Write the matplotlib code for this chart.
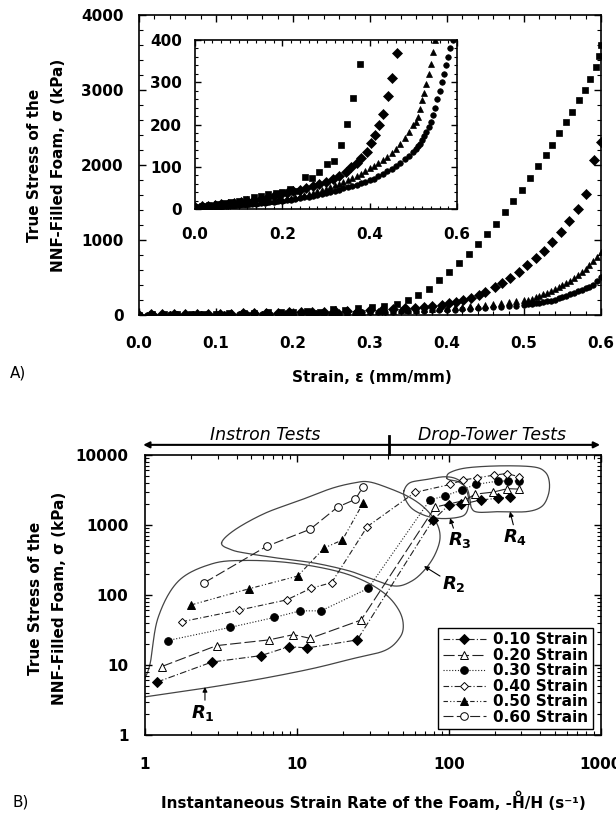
import numpy as np
import matplotlib
matplotlib.use("Agg")
import matplotlib.pyplot as plt
from matplotlib.ticker import MultipleLocator, LogLocator, NullFormatter, FixedLocator, FixedFormatter
from matplotlib.lines import Line2D

plt.rcParams['font.family'] = ['DejaVu Sans']
plt.rcParams['font.weight'] = 'bold'
plt.rcParams['mathtext.fontset'] = 'custom'
plt.rcParams['mathtext.rm'] = 'DejaVu Sans:bold'
plt.rcParams['mathtext.bf'] = 'DejaVu Sans:bold'
plt.rcParams['mathtext.it'] = 'DejaVu Sans:italic:bold'

# ---------------- Panel A data (strain, true stress kPa) ----------------
sq_strain = [0.000, 0.017, 0.033, 0.050, 0.067, 0.083, 0.100, 0.117, 0.136, 0.150, 0.168, 0.185,
             0.200, 0.218, 0.235, 0.252, 0.267, 0.285, 0.302, 0.318, 0.335, 0.349, 0.362, 0.377,
             0.390, 0.402, 0.415, 0.428, 0.440, 0.452, 0.464, 0.475, 0.486, 0.497, 0.508, 0.518,
             0.528, 0.537, 0.546, 0.555, 0.563, 0.571, 0.579, 0.586, 0.593, 0.597, 0.600]
sq_stress = [5, 8, 10, 12, 14, 17, 20, 24, 29, 31, 35, 39,
             41, 47, 43, 76, 73, 88, 106, 114, 151, 201, 262, 343,
             470, 580, 700, 820, 950, 1080, 1220, 1370, 1520, 1670, 1830, 1980,
             2130, 2270, 2420, 2570, 2710, 2860, 3000, 3150, 3300, 3450, 3600]

di_strain = [0.000, 0.015, 0.030, 0.045, 0.060, 0.075, 0.090, 0.105, 0.120, 0.135, 0.150, 0.165,
             0.180, 0.195, 0.210, 0.225, 0.240, 0.255, 0.270, 0.285, 0.300, 0.315, 0.330, 0.346,
             0.358, 0.370, 0.381, 0.393, 0.402, 0.412, 0.421, 0.431, 0.441, 0.450, 0.462, 0.472,
             0.482, 0.493, 0.504, 0.515, 0.526, 0.537, 0.548, 0.559, 0.570, 0.581, 0.591, 0.600]
di_stress = [5, 7, 8, 10, 12, 13, 15, 17, 19, 22, 24, 27,
             30, 34, 38, 42, 46, 50, 55, 60, 65, 71, 78, 88,
             100, 108, 120, 136, 157, 175, 199, 226, 268, 309, 368, 430,
             500, 580, 670, 760, 860, 980, 1110, 1260, 1420, 1620, 2070, 2300]

tr_strain = [0.00, 0.01, 0.02, 0.03, 0.04, 0.05, 0.06, 0.07, 0.08, 0.09, 0.10, 0.11, 0.12, 0.13,
             0.14, 0.15, 0.16, 0.17, 0.18, 0.19, 0.20, 0.21, 0.22, 0.23, 0.24, 0.25, 0.26, 0.27,
             0.28, 0.29, 0.30, 0.31, 0.32, 0.33, 0.34, 0.35, 0.36, 0.37, 0.38, 0.39, 0.40, 0.41,
             0.42, 0.43, 0.44, 0.45, 0.46, 0.47, 0.48, 0.49, 0.50, 0.505, 0.51, 0.515, 0.52, 0.525,
             0.53, 0.535, 0.54, 0.545, 0.55, 0.555, 0.56, 0.565, 0.57, 0.575, 0.58, 0.585, 0.59,
             0.595, 0.60]
tr_stress = [5, 5, 6, 6, 7, 8, 8, 9, 10, 10, 11, 12, 13, 14,
             15, 16, 17, 18, 19, 21, 22, 24, 26, 28, 30, 33, 36, 39,
             42, 45, 48, 52, 56, 60, 64, 68, 73, 78, 84, 90, 96, 102,
             108, 115, 122, 132, 142, 155, 168, 182, 198, 205, 217, 236, 258, 275,
             297, 320, 342, 372, 400, 430, 460, 500, 540, 580, 620, 670, 720,
             780, 840]

ci_strain = [0.00, 0.01, 0.02, 0.03, 0.04, 0.05, 0.06, 0.07, 0.08, 0.09, 0.10, 0.11, 0.12, 0.13,
             0.14, 0.15, 0.16, 0.17, 0.18, 0.19, 0.20, 0.21, 0.22, 0.23, 0.24, 0.25, 0.26, 0.27,
             0.28, 0.29, 0.30, 0.31, 0.32, 0.33, 0.34, 0.35, 0.36, 0.37, 0.38, 0.39, 0.40, 0.41,
             0.42, 0.43, 0.44, 0.45, 0.46, 0.47, 0.48, 0.49, 0.50, 0.505, 0.51, 0.515, 0.52, 0.525,
             0.53, 0.535, 0.54, 0.545, 0.55, 0.555, 0.56, 0.565, 0.57, 0.575, 0.58, 0.585, 0.59,
             0.595, 0.60]
ci_stress = [5, 5, 6, 6, 7, 7, 8, 8, 9, 10, 10, 11, 12, 12,
             13, 14, 15, 16, 17, 18, 19, 21, 22, 24, 26, 28, 29, 31,
             33, 35, 37, 40, 43, 46, 49, 52, 55, 58, 61, 64, 68, 72,
             77, 83, 89, 95, 102, 110, 118, 126, 136, 142, 148, 155, 163, 172,
             182, 193, 205, 222, 240, 260, 280, 300, 320, 340, 360, 380, 400,
             450, 510]

# ---------------- Panel B data (strain rate 1/s, true stress kPa) ----------------
s10_rate = [1.2, 2.75, 5.8, 8.86, 11.7, 24.9, 78, 100, 120, 162, 209, 252]
s10_stress = [5.7, 11, 13.6, 18.3, 17.5, 22.8, 1160, 1935, 1960, 2280, 2400, 2540]
s20_rate = [1.29, 2.96, 6.54, 9.46, 12.2, 26.4, 81, 128, 148, 196, 242, 290]
s20_stress = [9.5, 18.9, 22.8, 27.1, 24.0, 43.8, 1800, 2250, 2750, 2950, 3300, 3250]
s30_rate = [1.41, 3.63, 7.09, 10.5, 14.4, 29.4, 75, 94, 121, 150, 211, 245, 289]
s30_stress = [22.3, 34.4, 47.7, 59.3, 59.3, 124, 2280, 2600, 3160, 3790, 4240, 4240, 4240]
s40_rate = [1.74, 4.15, 8.55, 12.3, 16.9, 29.0, 59.8, 102, 123, 154, 198, 240, 289]
s40_stress = [41.4, 60.7, 85, 124, 150, 947, 2920, 3790, 4380, 4720, 5150, 5430, 4880]
s50_rate = [2.01, 4.86, 10.1, 15.1, 19.9, 27.3]
s50_stress = [72, 123, 186, 469, 610, 2080]
s60_rate = [2.46, 6.31, 12.2, 18.5, 24.2, 27.2]
s60_stress = [150, 495, 867, 1800, 2320, 3510]
legend_labels = ['0.10 Strain', '0.20 Strain', '0.30 Strain', '0.40 Strain', '0.50 Strain', '0.60 Strain']

# region outlines (data coordinates)
R1_x = [0.9, 1.0, 1.66, 2.75, 5.86, 12.5, 22.9, 37.9, 47.6, 50.0, 46.4, 37.9, 26.6, 16.9, 8.77, 4.55, 2.75, 1.66, 1.22, 1.08, 0.98]
R1_y = [3.4, 3.5, 4.11, 4.84, 6.37, 8.83, 12.2, 16.1, 24.8, 38.4, 62.7, 104, 165, 228, 290, 311, 278, 158, 47.6, 10.4, 6.0]
R2_x = [3.19, 3.91, 6.16, 10.2, 16.9, 24.1, 29.4, 37.9, 54.0, 69.5, 83.0, 87.3, 80.9, 69.5, 56.9, 44.2, 31.0, 21.8, 13.1, 7.93, 4.78, 3.72]
R2_y = [552, 855, 1470, 2200, 3330, 4010, 4140, 3520, 2540, 1730, 1060, 650, 378, 231, 158, 134, 170, 222, 285, 330, 390, 440]
R3_x = [50.6, 55.4, 69.5, 94.2, 115, 129, 135, 129, 113, 87.3, 69.5, 57.1, 51.4]
R3_y = [3085, 4010, 4420, 4880, 4420, 3300, 2150, 1456, 1277, 1237, 1364, 1714, 2377]
R4_x = [96.6, 101.6, 131, 217, 357, 428, 457, 450, 407, 324, 217, 156, 141, 137, 131, 115, 101.6]
R4_y = [4720, 5610, 6540, 6980, 6760, 5740, 4140, 2680, 1830, 1550, 1550, 1520, 1730, 2400, 3330, 4140, 4380]


def catmull_rom(xs, ys, closed, n=24):
    P = np.column_stack([np.log10(xs), np.log10(ys)])
    if closed:
        P = np.vstack([P[-1], P, P[0], P[1]])
    else:
        P = np.vstack([P[0], P, P[-1]])
    out = []
    t = np.linspace(0, 1, n, endpoint=False)[:, None]
    for i in range(1, len(P) - 2):
        p0, p1, p2, p3 = P[i - 1], P[i], P[i + 1], P[i + 2]
        seg = 0.5 * (2 * p1 + (-p0 + p2) * t + (2 * p0 - 5 * p1 + 4 * p2 - p3) * t ** 2
                     + (-p0 + 3 * p1 - 3 * p2 + p3) * t ** 3)
        out.append(seg)
    out.append(P[-2][None, :])
    Q = np.vstack(out)
    return 10 ** Q[:, 0], 10 ** Q[:, 1]


fig = plt.figure(figsize=(6.16, 8.14), dpi=100)
FS = 11

# ================= Panel A =================
axA = fig.add_axes([0.2256, 0.6130, 0.7500, 0.3686])
series_A = [(sq_strain, sq_stress, 's', 4.5), (di_strain, di_stress, 'D', 4.6),
            (tr_strain, tr_stress, '^', 4.6), (ci_strain, ci_stress, 'o', 4.0)]
for xs, ys, m, ms in series_A:
    axA.plot(xs, ys, linestyle='none', marker=m, markersize=ms, color='black', mec='black', mew=0.5)
axA.set_xlim(0, 0.6)
axA.set_ylim(0, 4000)
axA.xaxis.set_major_locator(MultipleLocator(0.1))
axA.xaxis.set_minor_locator(MultipleLocator(0.02))
axA.yaxis.set_major_locator(MultipleLocator(1000))
axA.yaxis.set_minor_locator(MultipleLocator(200))
axA.xaxis.set_major_formatter(plt.FuncFormatter(lambda v, p: f"{v:.1f}"))
axA.yaxis.set_major_formatter(plt.FuncFormatter(lambda v, p: f"{v:.0f}"))
axA.tick_params(which='both', direction='in', top=True, right=True, labelsize=FS)
axA.tick_params(which='major', length=5, width=1)
axA.tick_params(which='minor', length=3, width=0.8)
axA.tick_params(axis='x', which='major', pad=15)
axA.tick_params(axis='y', which='major', pad=11)
for s in axA.spines.values():
    s.set_linewidth(1.2)

# inset
axI = fig.add_axes([0.3166, 0.7432, 0.4253, 0.2077])
for xs, ys, m, ms in series_A:
    axI.plot(xs, ys, linestyle='none', marker=m, markersize=ms, color='black', mec='black', mew=0.5)
axI.set_xlim(0, 0.6)
axI.set_ylim(0, 400)
axI.xaxis.set_major_locator(MultipleLocator(0.2))
axI.xaxis.set_minor_locator(MultipleLocator(0.02))
axI.yaxis.set_major_locator(MultipleLocator(100))
axI.yaxis.set_minor_locator(MultipleLocator(20))
axI.xaxis.set_major_formatter(plt.FuncFormatter(lambda v, p: f"{v:.1f}"))
axI.yaxis.set_major_formatter(plt.FuncFormatter(lambda v, p: f"{v:.0f}"))
axI.tick_params(which='both', direction='in', top=True, right=True, labelsize=FS)
axI.tick_params(which='major', length=4, width=1)
axI.tick_params(which='minor', length=2.5, width=0.8)
axI.tick_params(axis='x', which='major', pad=13)
axI.tick_params(axis='y', which='major', pad=9.5)
for s in axI.spines.values():
    s.set_linewidth(1.2)

fig.text(46.5 / 616, 0.797, "True Stress of the\nNNF-Filled Foam, σ (kPa)", rotation=90,
         ha='center', va='center', fontsize=FS, linespacing=1.75, multialignment='center')
fig.text(0.603, 1 - 377 / 814, "Strain, ε (mm/mm)", ha='center', va='center', fontsize=FS)
fig.text(10 / 616, 1 - 373 / 814, "A)", ha='left', va='center', fontsize=FS, fontweight='normal')

# ================= Panel B =================
axB = fig.add_axes([0.2354, 0.0971, 0.7402, 0.3440])
axB.set_xscale('log')
axB.set_yscale('log')
axB.set_xlim(1, 1000)
axB.set_ylim(1, 10000)

outline_color = '#444444'
for xs, ys, closed in [(R1_x, R1_y, False), (R2_x, R2_y, True), (R3_x, R3_y, True), (R4_x, R4_y, True)]:
    cx, cy = catmull_rom(xs, ys, closed)
    axB.plot(cx, cy, color=outline_color, lw=0.9, zorder=1)

series_B = [
    (s10_rate, s10_stress, 'D', 'black', 4.6, (0, (6, 2, 1, 2))),
    (s20_rate, s20_stress, '^', 'white', 6.0, (0, (10, 3))),
    (s30_rate, s30_stress, 'o', 'black', 5.5, (0, (1, 1.6))),
    (s40_rate, s40_stress, 'D', 'white', 4.4, (0, (5, 2, 1, 2))),
    (s50_rate, s50_stress, '^', 'black', 6.0, (0, (4, 2, 1, 2, 1, 2))),
    (s60_rate, s60_stress, 'o', 'white', 5.5, (0, (9, 3))),
]
handles = []
for (xs, ys, m, fc, ms, ls), lab in zip(series_B, legend_labels):
    axB.plot(xs, ys, color='#222222', lw=0.8, linestyle=ls, zorder=2)
    axB.plot(xs, ys, linestyle='none', marker=m, markersize=ms, mfc=fc, mec='black', mew=0.7, zorder=3)
    handles.append(Line2D([0], [0], color='#222222', lw=0.8, linestyle=ls, marker=m,
                          markersize=ms, mfc=fc, mec='black', mew=0.7, label=lab))

leg = axB.legend(handles=handles, loc='lower right', bbox_to_anchor=(0.9825, 0.02), borderaxespad=0,
                 fontsize=FS, frameon=True, fancybox=False, edgecolor='black', framealpha=1,
                 handlelength=2.8, handletextpad=0.5, labelspacing=0.03, borderpad=0.3)
leg.get_frame().set_linewidth(1.0)

axB.xaxis.set_major_locator(FixedLocator([1, 10, 100, 1000]))
axB.xaxis.set_major_formatter(FixedFormatter(['1', '10', '100', '1000']))
axB.yaxis.set_major_locator(FixedLocator([1, 10, 100, 1000, 10000]))
axB.yaxis.set_major_formatter(FixedFormatter(['1', '10', '100', '1000', '10000']))
axB.xaxis.set_minor_locator(LogLocator(base=10, subs=np.arange(2, 10)))
axB.yaxis.set_minor_locator(LogLocator(base=10, subs=np.arange(2, 10)))
axB.xaxis.set_minor_formatter(NullFormatter())
axB.yaxis.set_minor_formatter(NullFormatter())
axB.tick_params(which='both', direction='in', top=True, right=True, labelsize=FS)
axB.tick_params(which='major', length=5, width=1)
axB.tick_params(which='minor', length=3, width=0.8)
axB.tick_params(axis='x', which='major', pad=16)
axB.tick_params(axis='y', which='major', pad=12)
for s in axB.spines.values():
    s.set_linewidth(1.2)

# region labels and arrows
r_labels = [(r'$R_{\mathit{1}}$', (2.48, 4.84), (2.48, 3.14), (2.42, 2.05)),
            (r'$R_{\mathit{2}}$', (68.5, 258), (87.3, 186), (107, 142)),
            (r'$R_{\mathit{3}}$', (101.6, 1250), (107, 900), (118, 600)),
            (r'$R_{\mathit{4}}$', (252, 1550), (265, 1006), (272, 670))]
for txt, head, tail, pos in r_labels:
    axB.annotate('', xy=head, xytext=tail,
                 arrowprops=dict(arrowstyle='-|>', color='black', lw=0.8, mutation_scale=7, shrinkA=0, shrinkB=0))
    axB.text(pos[0], pos[1], txt, ha='center', va='center', fontsize=13)

# Instron / Drop-tower arrow bar
tb = axB.transAxes
axB.annotate('', xy=(0.998, 1.036), xytext=(-0.004, 1.036), xycoords=tb, textcoords=tb,
             arrowprops=dict(arrowstyle='<|-|>', color='black', lw=1.5, mutation_scale=9, shrinkA=0, shrinkB=0),
             annotation_clip=False)
axB.plot([0.535, 0.535], [1.004, 1.068], transform=tb, color='black', lw=2, clip_on=False)
axB.text(0.263, 1.071, 'Instron Tests', transform=tb, ha='center', va='center', fontsize=12.5,
         style='italic', fontweight='normal')
axB.text(0.761, 1.071, 'Drop-Tower Tests', transform=tb, ha='center', va='center', fontsize=12.5,
         style='italic', fontweight='normal')

fig.text(48 / 616, 1 - 598 / 814, "True Stress of the\nNNF-Filled Foam, σ (kPa)", rotation=90,
         ha='center', va='center', fontsize=FS, linespacing=1.75, multialignment='center')

# x label of panel B; a small ring (over-dot) is drawn above the first H
xl_prefix = "Instantaneous Strain Rate of the Foam, -"
xl_full = xl_prefix + "H/H (s\u207B\u00B9)"
base_y = 1 - 807.5 / 814
xl = fig.text(0.606, base_y, xl_full, ha='center', va='baseline', fontsize=FS)
fig.canvas.draw()
rend = fig.canvas.get_renderer()
bb_full = xl.get_window_extent(rend)
tmp = fig.text(0, 0, xl_prefix + "H", fontsize=FS)
w_preH = tmp.get_window_extent(rend).width
tmp.remove()
tmp = fig.text(0, 0, "H", fontsize=FS)
w_H = tmp.get_window_extent(rend).width
tmp.remove()
x_ring_px = bb_full.x0 + w_preH - w_H / 2
y_ring_px = base_y * fig.bbox.height + 15.0
fig.add_artist(Line2D([x_ring_px / fig.bbox.width], [y_ring_px / fig.bbox.height], transform=fig.transFigure,
                      marker='o', markersize=3.2, mfc='none', mec='black', mew=1.0, linestyle='none'))

fig.text(12 / 616, 1 - 802 / 814, "B)", ha='left', va='center', fontsize=FS, fontweight='normal')

fig.savefig('out.png', dpi=100)
